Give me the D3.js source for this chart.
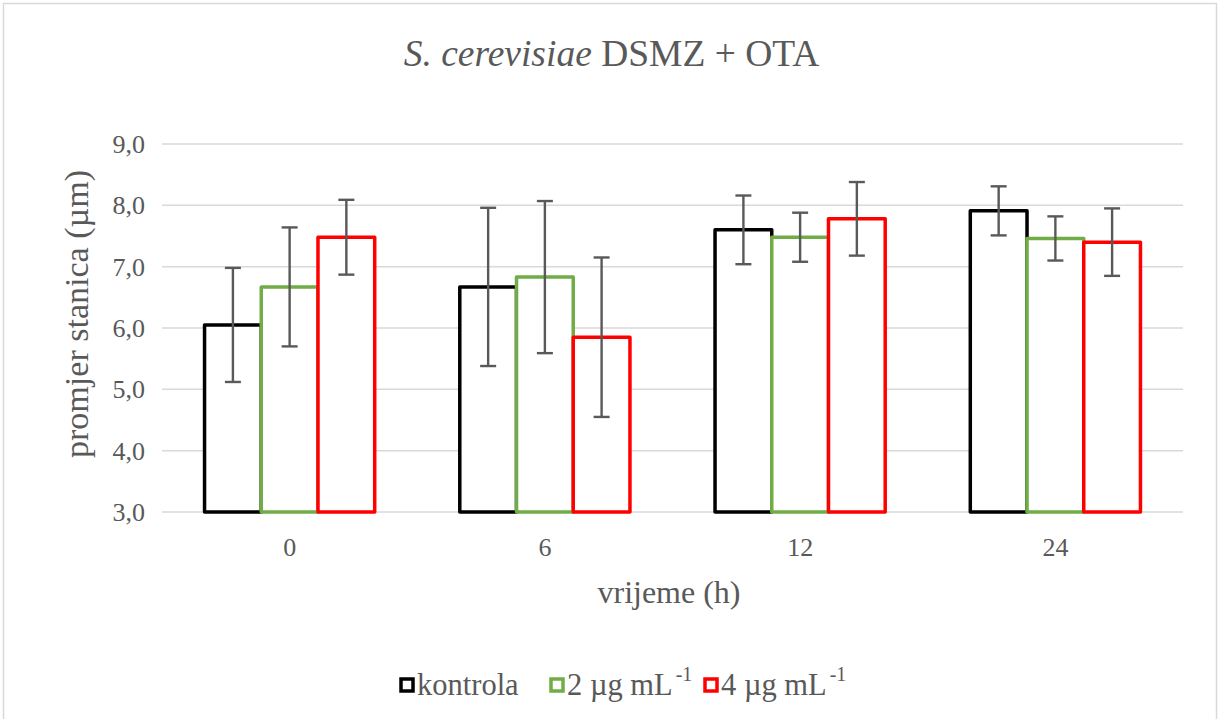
<!DOCTYPE html>
<html><head><meta charset="utf-8">
<script src="https://cdn.jsdelivr.net/npm/d3@7"></script>
<style>body{margin:0;background:#fff}svg{display:block}</style>
</head><body>
<script>
const categories = ["0","6","12","24"];
const seriesNames = ["kontrola","2 µg mL","4 µg mL"];
const kontrola = [6.05, 6.67, 7.60, 7.91];
const ug2 = [6.67, 6.83, 7.48, 7.46];
const ug4 = [7.48, 5.85, 7.78, 7.40];
const errKontrola = [0.93, 1.29, 0.56, 0.40];
const errUg2 = [0.97, 1.24, 0.40, 0.36];
const errUg4 = [0.61, 1.30, 0.60, 0.55];
const yTicks = [3,4,5,6,7,8,9];
const colors = ["#000000","#70ad47","#ff0000"];

const W=1223,H=719;
const svg=d3.select("body").append("svg").attr("width",W).attr("height",H);
svg.append("rect").attr("x",3.5).attr("y",3.5).attr("width",1213).attr("height",H+10)
  .attr("fill","#fff").attr("stroke","#d9d9d9").attr("stroke-width",1.5);

const pL=162,pR=1183,pT=144,pB=512;
const y=d3.scaleLinear().domain([3,9]).range([pB,pT]);
const x0=d3.scaleBand().domain(categories).range([pL,pR]).padding(0);
const x1=d3.scaleBand().domain(d3.range(3)).range([0,x0.bandwidth()]).paddingInner(0).paddingOuter(0.75);

const font="'Liberation Serif','Times New Roman',serif";
const txt="#595959";

// gridlines
svg.append("g").selectAll("line").data(yTicks).join("line")
  .attr("x1",pL).attr("x2",pR).attr("y1",d=>y(d)).attr("y2",d=>y(d))
  .attr("stroke","#d9d9d9").attr("stroke-width",1.5);

// y tick labels
svg.append("g").selectAll("text").data(yTicks).join("text")
  .attr("x",pL-17).attr("y",d=>y(d)).attr("dy","0.34em").attr("text-anchor","end")
  .attr("font-family",font).attr("font-size",26).attr("fill",txt)
  .text(d=>d.toFixed(1).replace(".",","));

// x tick labels
svg.append("g").selectAll("text").data(categories).join("text")
  .attr("x",d=>x0(d)+x0.bandwidth()/2).attr("y",556).attr("text-anchor","middle")
  .attr("font-family",font).attr("font-size",26).attr("fill",txt).text(d=>d);

const vals=[kontrola,ug2,ug4], errs=[errKontrola,errUg2,errUg4];
const data=[];
categories.forEach((c,i)=>{for(let s=0;s<3;s++)data.push({c,s,v:vals[s][i],e:errs[s][i]});});

svg.append("g").selectAll("rect").data(data).join("rect")
  .attr("x",d=>x0(d.c)+x1(d.s)).attr("y",d=>y(d.v))
  .attr("width",x1.bandwidth()).attr("height",d=>y(3)-y(d.v))
  .attr("fill","#fff").attr("stroke",d=>colors[d.s]).attr("stroke-width",3.5)
  .attr("stroke-linejoin","round");

const eg=svg.append("g").attr("stroke","#595959").attr("stroke-width",2.4);
data.forEach(d=>{
  const cx=x0(d.c)+x1(d.s)+x1.bandwidth()/2;
  eg.append("line").attr("x1",cx).attr("x2",cx).attr("y1",y(d.v+d.e)).attr("y2",y(d.v-d.e));
  [d.v+d.e,d.v-d.e].forEach(v=>eg.append("line").attr("x1",cx-8).attr("x2",cx+8).attr("y1",y(v)).attr("y2",y(v)));
});

// title
const t=svg.append("text").attr("x",611.5).attr("y",66).attr("text-anchor","middle")
  .attr("font-family",font).attr("font-size",37.5).attr("fill",txt);
t.append("tspan").attr("font-style","italic").text("S. cerevisiae");
t.append("tspan").text(" DSMZ  + OTA");

// axis titles
svg.append("text").attr("x",669).attr("y",603).attr("text-anchor","middle")
  .attr("font-family",font).attr("font-size",32).attr("fill",txt).text("vrijeme (h)");
svg.append("text").attr("transform","translate(88,314) rotate(-90)")
  .attr("text-anchor","middle").attr("font-family",font).attr("font-size",34).attr("fill",txt)
  .attr("textLength",288).attr("lengthAdjust","spacingAndGlyphs")
  .text("promjer stanica (µm)");

// legend
const leg=svg.append("g");
const legX=[401,551,705];
seriesNames.forEach((n,i)=>{
  leg.append("rect").attr("x",legX[i]).attr("y",679).attr("width",12).attr("height",12)
    .attr("fill","#fff").attr("stroke",colors[i]).attr("stroke-width",3.5);
  const tx=leg.append("text").attr("x",legX[i]+16).attr("y",695)
    .attr("font-family",font).attr("font-size",30.5).attr("fill",txt);
  tx.append("tspan").text(n);
  if(i>0) tx.append("tspan").attr("dx",3).attr("dy",-14).attr("font-size",20).text("-1");
});
</script>
</body></html>
